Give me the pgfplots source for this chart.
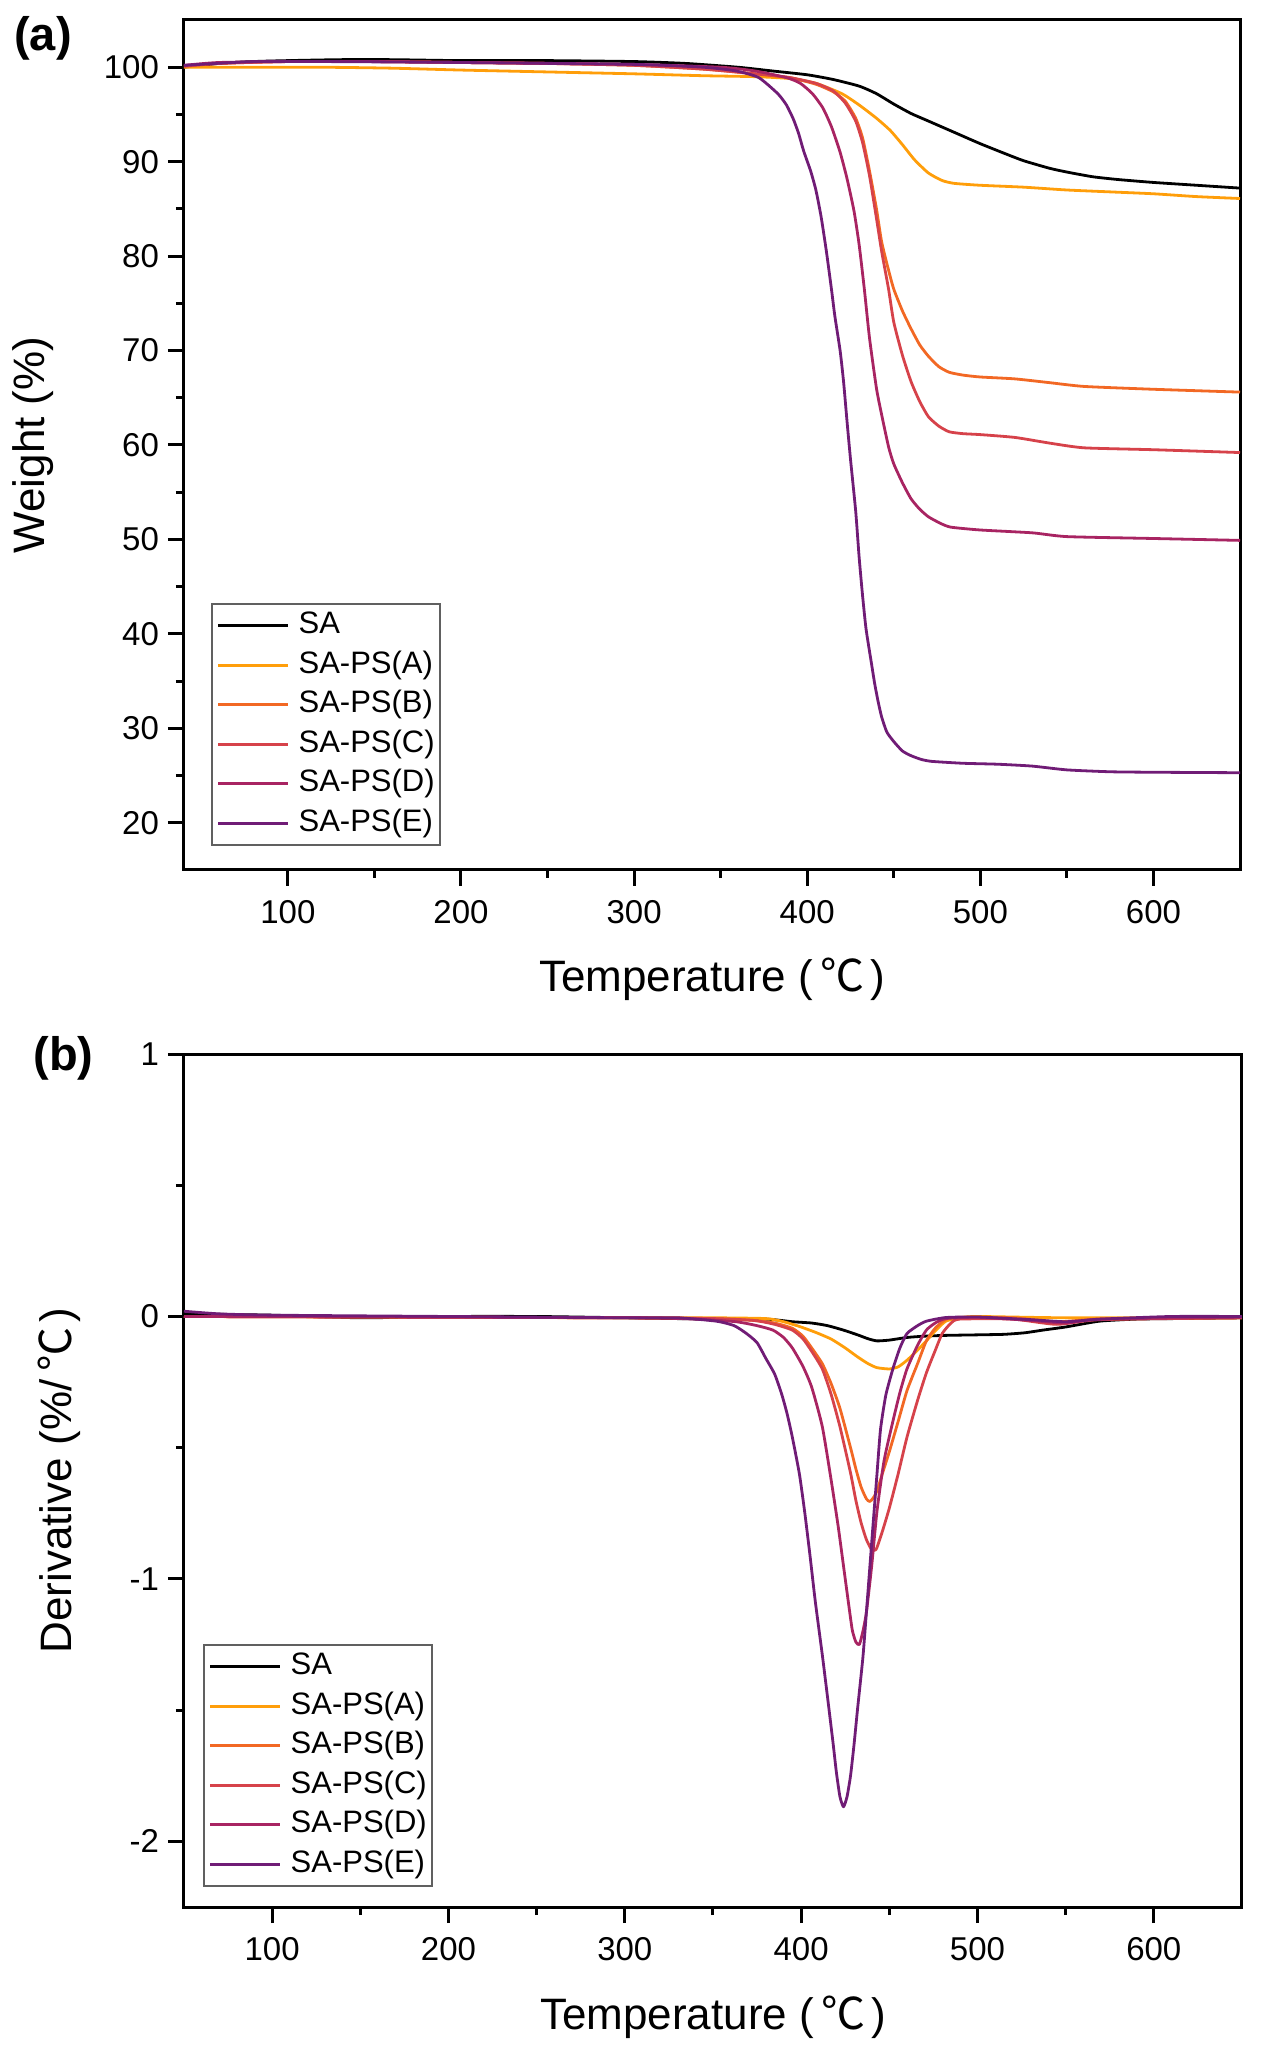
\documentclass[border=0pt]{standalone}
\usepackage{fontspec}
\setmainfont{Liberation Sans}
\newfontfamily\cjk{Noto Sans CJK SC}
\usepackage{pgfplots}
\pgfplotsset{compat=1.18}
\definecolor{cA}{RGB}{255,158,10}
\definecolor{cB}{RGB}{242,104,36}
\definecolor{cC}{RGB}{214,66,74}
\definecolor{cD}{RGB}{168,36,98}
\definecolor{cE}{RGB}{112,28,118}
\newcommand{\degC}{\hspace{0.18em}{\cjk ℃}\hspace{0.12em}}
\pgfplotsset{
  tgbase/.style={
    scale only axis, width=528pt,
    axis line style={line width=1.5pt},
    every tick/.style={black, line width=1.5pt},
    tick align=outside, xtick pos=bottom, ytick pos=left,
    major tick length=8pt, minor tick length=4pt,
    minor x tick num=1, minor y tick num=1,
    tick label style={font=\fontsize{16.5}{19}\selectfont},
    xticklabel style={yshift=-3.5pt},
    yticklabel style={xshift=-1pt},
    /pgf/number format/assume math mode=true,
    label style={font=\fontsize{22}{26}\selectfont},
    clip mode=individual,
    legend cell align=left,
    legend image code/.code={\draw[#1] (0pt,0pt) -- (35pt,0pt);},
    every axis plot/.append style={line width=1.4pt, line join=round, mark=none, smooth, tension=0.35},
  },
  lgd/.style={draw=gray!75!black, line width=0.8pt,
    font=\fontsize{15.5}{18}\selectfont,
    inner xsep=2.5pt, inner ysep=4pt, row sep=5.75pt, column sep=4.5pt,
    nodes={inner sep=0pt, text height=11pt, text depth=3pt}},
}
\begin{document}
\begin{tikzpicture}
\useasboundingbox (0,0) rectangle (630pt,-1027.5pt);
% ---------------- (a) TG ----------------
\begin{axis}[tgbase, height=425pt, anchor=north west, at={(92pt,-10pt)},
  xmin=40, xmax=650, ymin=15, ymax=105,
  xtick={100,200,...,600}, ytick={20,30,...,100},
  xlabel={Temperature (\degC)}, ylabel={Weight (\%)},
  xlabel style={at={(axis description cs:0.5,-0.129)}, anchor=center},
  ylabel style={at={(axis description cs:-0.143,0.5)}, anchor=center},
  legend style={lgd, at={(axis description cs:0.0256,0.0282)}, anchor=south west},
]
\addplot[black] coordinates {
(40,100.0)(60,100.4)(80,100.6)(100,100.7)(130,100.8)(160,100.8)(200,100.7)(250,100.7)(300,100.6)(330,100.4)(360,100.0)(380,99.6)(400,99.2)(415,98.7)(430,98.0)(440,97.2)(450,96.1)(460,95.1)(470,94.3)(485,93.1)(500,91.9)(515,90.8)(525,90.1)(540,89.3)(550,88.9)(565,88.4)(580,88.1)(600,87.8)(625,87.5)(650,87.2)};
\addplot[cA] coordinates {
(40,100.0)(80,100.0)(120,100.0)(160,99.9)(200,99.7)(250,99.5)(300,99.3)(340,99.1)(370,99.0)(390,98.8)(405,98.3)(420,97.2)(430,96.0)(440,94.6)(448,93.3)(455,91.8)(462,90.2)(470,88.8)(478,88.0)(485,87.7)(500,87.5)(525,87.3)(550,87.0)(575,86.8)(600,86.6)(625,86.3)(650,86.1)};
\addplot[cB] coordinates {
(40,100.1)(60,100.4)(100,100.6)(150,100.6)(200,100.5)(250,100.4)(300,100.2)(340,99.8)(370,99.3)(390,98.9)(405,98.2)(415,97.4)(422,96.4)(428,94.6)(432,92.5)(436,89.0)(440,85.0)(443,81.5)(447,78.5)(450,76.5)(455,74.2)(460,72.3)(465,70.6)(470,69.4)(476,68.3)(482,67.7)(490,67.4)(500,67.2)(520,67.0)(540,66.6)(560,66.2)(600,65.9)(650,65.6)};
\addplot[cC] coordinates {
(40,100.1)(60,100.4)(100,100.6)(150,100.6)(200,100.5)(250,100.4)(300,100.2)(340,99.8)(370,99.3)(390,98.9)(405,98.3)(415,97.5)(422,96.2)(428,94.3)(432,92.0)(436,88.5)(440,84.0)(443,80.5)(447,76.5)(450,73.0)(455,69.5)(460,66.7)(465,64.6)(470,63.0)(476,62.0)(482,61.4)(490,61.2)(500,61.1)(520,60.8)(540,60.2)(560,59.7)(600,59.5)(650,59.2)};
\addplot[cD] coordinates {
(40,100.2)(60,100.5)(100,100.6)(150,100.6)(200,100.5)(250,100.4)(300,100.3)(350,100.0)(370,99.6)(388,98.9)(396,98.3)(403,97.2)(409,95.7)(414,93.7)(419,91.0)(423,88.2)(427,84.8)(430,81.2)(433,76.5)(436,71.3)(440,66.0)(443,63.2)(447,59.8)(450,58.0)(455,56.0)(460,54.3)(465,53.2)(470,52.4)(477,51.7)(483,51.3)(500,51.0)(530,50.7)(550,50.3)(600,50.1)(650,49.9)};
\addplot[cE] coordinates {
(40,100.2)(80,100.6)(120,100.6)(200,100.5)(300,100.3)(340,100.0)(359,99.6)(372,98.9)(383,97.2)(388,96.0)(392,94.5)(395,93.0)(398,91.1)(402,89.0)(405,87.0)(408,84.2)(411,80.6)(414,76.5)(416,73.6)(419,70.0)(421,66.7)(423,62.5)(425,58.5)(428,53.0)(430,48.1)(432,44.0)(434,40.5)(437,37.0)(439,34.7)(441,32.8)(443,31.2)(446,29.6)(450,28.6)(455,27.6)(460,27.1)(466,26.7)(472,26.5)(490,26.3)(510,26.2)(530,26.0)(550,25.6)(575,25.4)(600,25.35)(650,25.3)};
\legend{SA,SA-PS(A),SA-PS(B),SA-PS(C),SA-PS(D),SA-PS(E)}
\node[font=\bfseries\fontsize{23.5}{28}\selectfont] at (axis description cs:-0.1335,0.978) {(a)};
\end{axis}
% ---------------- (b) DTG ----------------
\begin{axis}[tgbase, height=426.5pt, anchor=north west, at={(92pt,-527pt)},
  width=529pt,
  xmin=50, xmax=650, ymin=-2.25, ymax=1,
  xtick={100,200,...,600}, ytick={-2,-1,0,1},
  xlabel={Temperature (\degC)}, ylabel={Derivative (\%/\degC)},
  xlabel style={at={(axis description cs:0.5,-0.129)}, anchor=center},
  ylabel style={at={(axis description cs:-0.118,0.5)}, anchor=center},
  legend style={lgd, at={(axis description cs:0.018,0.0234)}, anchor=south west},
]
\addplot[black] coordinates {
(50,0.01)(100,0.005)(150,-0.005)(200,0.0)(250,0.0)(300,-0.005)(350,-0.01)(380,-0.01)(395,-0.02)(406,-0.025)(415,-0.035)(424,-0.052)(432,-0.07)(438,-0.085)(443,-0.093)(450,-0.09)(460,-0.08)(470,-0.075)(482,-0.072)(500,-0.07)(515,-0.068)(527,-0.062)(537,-0.052)(550,-0.04)(569,-0.018)(590,-0.01)(612,-0.008)(650,-0.005)};
\addplot[cA] coordinates {
(50,0.0)(300,-0.005)(350,-0.005)(380,-0.008)(390,-0.02)(399,-0.038)(408,-0.06)(417,-0.086)(425,-0.12)(432,-0.154)(438,-0.18)(443,-0.195)(450,-0.2)(455,-0.192)(460,-0.167)(465,-0.135)(471,-0.093)(476,-0.055)(482,-0.018)(490,-0.005)(500,0.0)(550,-0.005)(650,-0.005)};
\addplot[cB] coordinates {
(50,0.0)(300,-0.005)(350,-0.008)(373,-0.015)(385,-0.025)(395,-0.045)(401,-0.075)(406,-0.12)(412,-0.18)(417,-0.256)(422,-0.35)(428,-0.5)(431,-0.58)(434,-0.65)(437,-0.695)(439,-0.705)(441,-0.69)(443,-0.665)(446,-0.6)(450,-0.515)(455,-0.4)(460,-0.283)(466,-0.18)(471,-0.093)(476,-0.045)(482,-0.011)(490,-0.003)(520,-0.005)(545,-0.02)(570,-0.01)(650,-0.005)};
\addplot[cC] coordinates {
(50,0.0)(300,-0.005)(350,-0.008)(373,-0.015)(385,-0.03)(395,-0.052)(401,-0.085)(406,-0.133)(412,-0.2)(417,-0.297)(422,-0.42)(428,-0.596)(431,-0.7)(434,-0.786)(437,-0.85)(440,-0.889)(442,-0.89)(443,-0.88)(446,-0.82)(450,-0.73)(455,-0.6)(460,-0.46)(466,-0.32)(471,-0.215)(476,-0.13)(480,-0.065)(485,-0.025)(490,-0.01)(520,-0.01)(545,-0.03)(570,-0.012)(650,-0.005)};
\addplot[cD] coordinates {
(50,0.0)(300,-0.005)(340,-0.01)(363,-0.02)(375,-0.035)(384,-0.052)(390,-0.08)(395,-0.12)(401,-0.19)(406,-0.27)(412,-0.42)(417,-0.623)(421,-0.8)(424,-0.95)(427,-1.1)(429,-1.195)(431,-1.24)(433,-1.25)(435,-1.2)(437,-1.127)(440,-0.95)(443,-0.742)(447,-0.55)(452,-0.40)(456,-0.29)(460,-0.2)(466,-0.11)(471,-0.052)(476,-0.025)(482,-0.008)(500,-0.003)(530,-0.015)(550,-0.025)(570,-0.01)(650,-0.003)};
\addplot[cE] coordinates {
(50,0.02)(70,0.01)(100,0.005)(200,0.0)(300,-0.005)(330,-0.005)(352,-0.018)(362,-0.035)(369,-0.065)(375,-0.1)(380,-0.16)(385,-0.22)(389,-0.297)(392,-0.37)(395,-0.46)(399,-0.6)(402,-0.745)(405,-0.91)(408,-1.085)(412,-1.29)(415,-1.453)(418,-1.62)(420,-1.738)(422,-1.83)(424,-1.868)(426,-1.83)(428,-1.75)(430,-1.63)(432,-1.494)(435,-1.3)(437,-1.127)(439,-0.95)(441,-0.773)(443,-0.6)(445,-0.43)(448,-0.3)(452,-0.2)(456,-0.12)(460,-0.065)(466,-0.035)(471,-0.018)(482,-0.004)(500,-0.002)(530,-0.012)(550,-0.02)(570,-0.01)(610,0.0)(650,0.0)};
\legend{SA,SA-PS(A),SA-PS(B),SA-PS(C),SA-PS(D),SA-PS(E)}
\node[font=\bfseries\fontsize{23.5}{28}\selectfont] at (axis description cs:-0.114,0.995) {(b)};
\end{axis}
\end{tikzpicture}
\end{document}
